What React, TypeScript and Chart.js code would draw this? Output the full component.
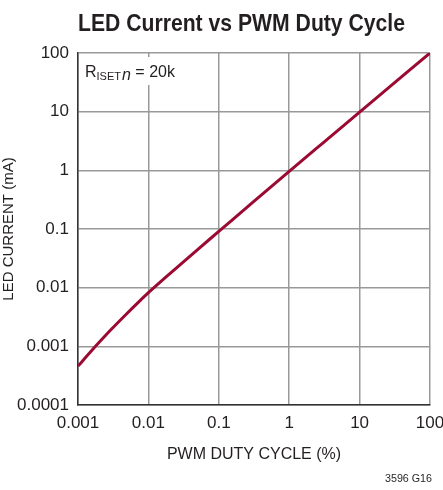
import React, { useEffect, useRef } from "react";
import { Chart, registerables } from "chart.js";

Chart.register(...registerables);

const dutyCycle = [0.001, 0.0015, 0.002, 0.003, 0.005, 0.007, 0.01, 0.02, 0.03, 0.05, 0.1, 0.3, 1, 3, 10, 100];
const ledCurrent = [0.00046, 0.0008, 0.00117, 0.00197, 0.00367, 0.00545, 0.0082, 0.0172, 0.0263, 0.0447, 0.091, 0.281, 0.96, 2.92, 9.85, 100];
const xTicks = [0.001, 0.01, 0.1, 1, 10, 100];
const yTicks = [0.0001, 0.001, 0.01, 0.1, 1, 10, 100];
const xTickLabels = ["0.001", "0.01", "0.1", "1", "10", "100"];
const yTickLabels = ["0.0001", "0.001", "0.01", "0.1", "1", "10", "100"];

const FONT = "'Liberation Sans', Arial, sans-serif";
const INK = "#231f20";

const textPlugin = {
  id: "textPlugin",
  beforeDatasetsDraw(chart: any) {
    const ctx = chart.ctx;
    const area = chart.chartArea;
    ctx.save();
    ctx.fillStyle = "#ffffff";
    ctx.fillRect(area.left + 2, area.top + 4, 98, 28);
    ctx.restore();
  },
  afterDraw(chart: any) {
    const ctx = chart.ctx;
    const area = chart.chartArea;
    ctx.save();
    ctx.fillStyle = INK;
    // Title (condensed by horizontal scaling)
    ctx.font = `bold 24px ${FONT}`;
    ctx.textAlign = "left";
    ctx.textBaseline = "alphabetic";
    const title = "LED Current vs PWM Duty Cycle";
    const w = ctx.measureText(title).width;
    const target = 327;
    ctx.save();
    ctx.translate(78, 31);
    ctx.scale(target / w, 1);
    ctx.fillText(title, 0, 0);
    ctx.restore();
    // Annotation
    let x = area.left + 7;
    const y = area.top + 24;
    ctx.font = `16px ${FONT}`;
    ctx.fillText("R", x, y);
    x += ctx.measureText("R").width;
    ctx.font = `11px ${FONT}`;
    ctx.fillText("ISET", x, y + 3);
    x += ctx.measureText("ISET").width;
    ctx.font = `italic 16px ${FONT}`;
    ctx.fillText("n", x + 1, y + 3);
    x += ctx.measureText("n").width + 1;
    ctx.font = `16px ${FONT}`;
    ctx.fillText(" = 20k", x, y);
    // Footnote
    ctx.save();
    ctx.font = `10px ${FONT}`;
    const fw = ctx.measureText("3596 G16").width;
    ctx.translate(432, 482);
    ctx.scale(47 / fw, 1);
    ctx.textAlign = "right";
    ctx.fillText("3596 G16", 0, 0);
    ctx.restore();
    ctx.restore();
  },
};

export default function App() {
  const ref = useRef<HTMLCanvasElement | null>(null);
  useEffect(() => {
    if (!ref.current) return;
    const chart = new Chart(ref.current, {
      type: "line",
      data: {
        datasets: [
          {
            data: dutyCycle.map((d, i) => ({ x: d, y: ledCurrent[i] })),
            borderColor: "#9b0a32",
            borderWidth: 3,
            pointRadius: 0,
            cubicInterpolationMode: "monotone",
            fill: false,
          },
        ],
      },
      plugins: [textPlugin],
      options: {
        animation: false,
        responsive: false,
        layout: { padding: { top: 53, right: 13, left: 0, bottom: 24 } },
        plugins: { legend: { display: false }, tooltip: { enabled: false }, title: { display: false } },
        scales: {
          x: {
            type: "logarithmic",
            min: 0.001,
            max: 100,
            afterBuildTicks: (s: any) => {
              s.ticks = xTicks.map((v) => ({ value: v }));
            },
            afterFit: (s: any) => {
              s.height = 61;
              s.paddingLeft = 0;
              s.paddingRight = 0;
            },
            ticks: {
              autoSkip: false,
              maxRotation: 0,
              padding: 8,
              color: INK,
              font: { family: FONT, size: 17 },
              callback: (v: any) => {
                const i = xTicks.findIndex((t) => Math.abs(t - v) / t < 1e-6);
                return i >= 0 ? xTickLabels[i] : "";
              },
            },
            grid: { color: "#999999", lineWidth: 1.5, drawTicks: false },
            border: { color: "#333333", width: 1.5 },
            title: {
              display: true,
              text: "PWM DUTY CYCLE (%)",
              color: INK,
              font: { family: FONT, size: 16 },
              padding: { top: 4, bottom: 2 },
            },
          },
          y: {
            type: "logarithmic",
            min: 0.0001,
            max: 100,
            afterBuildTicks: (s: any) => {
              s.ticks = yTicks.map((v) => ({ value: v }));
            },
            afterFit: (s: any) => {
              s.width = 78;
              s.paddingTop = 0;
              s.paddingBottom = 0;
            },
            ticks: {
              autoSkip: false,
              padding: 9,
              color: INK,
              font: { family: FONT, size: 17 },
              callback: (v: any) => {
                const i = yTicks.findIndex((t) => Math.abs(t - v) / t < 1e-6);
                return i >= 0 ? yTickLabels[i] : "";
              },
            },
            grid: { color: "#999999", lineWidth: 1.5, drawTicks: false },
            border: { color: "#333333", width: 1.5 },
            title: {
              display: true,
              text: "LED CURRENT (mA)",
              color: INK,
              font: { family: FONT, size: 15 },
              padding: { top: 0, bottom: 2 },
            },
          },
        },
      },
    } as any);
    return () => chart.destroy();
  }, []);
  return (
    <div style={{ position: "fixed", left: 0, top: 0, width: 443, height: 490, background: "#fff" }}>
      <canvas ref={ref} width={443} height={490} style={{ display: "block" }} />
    </div>
  );
}
